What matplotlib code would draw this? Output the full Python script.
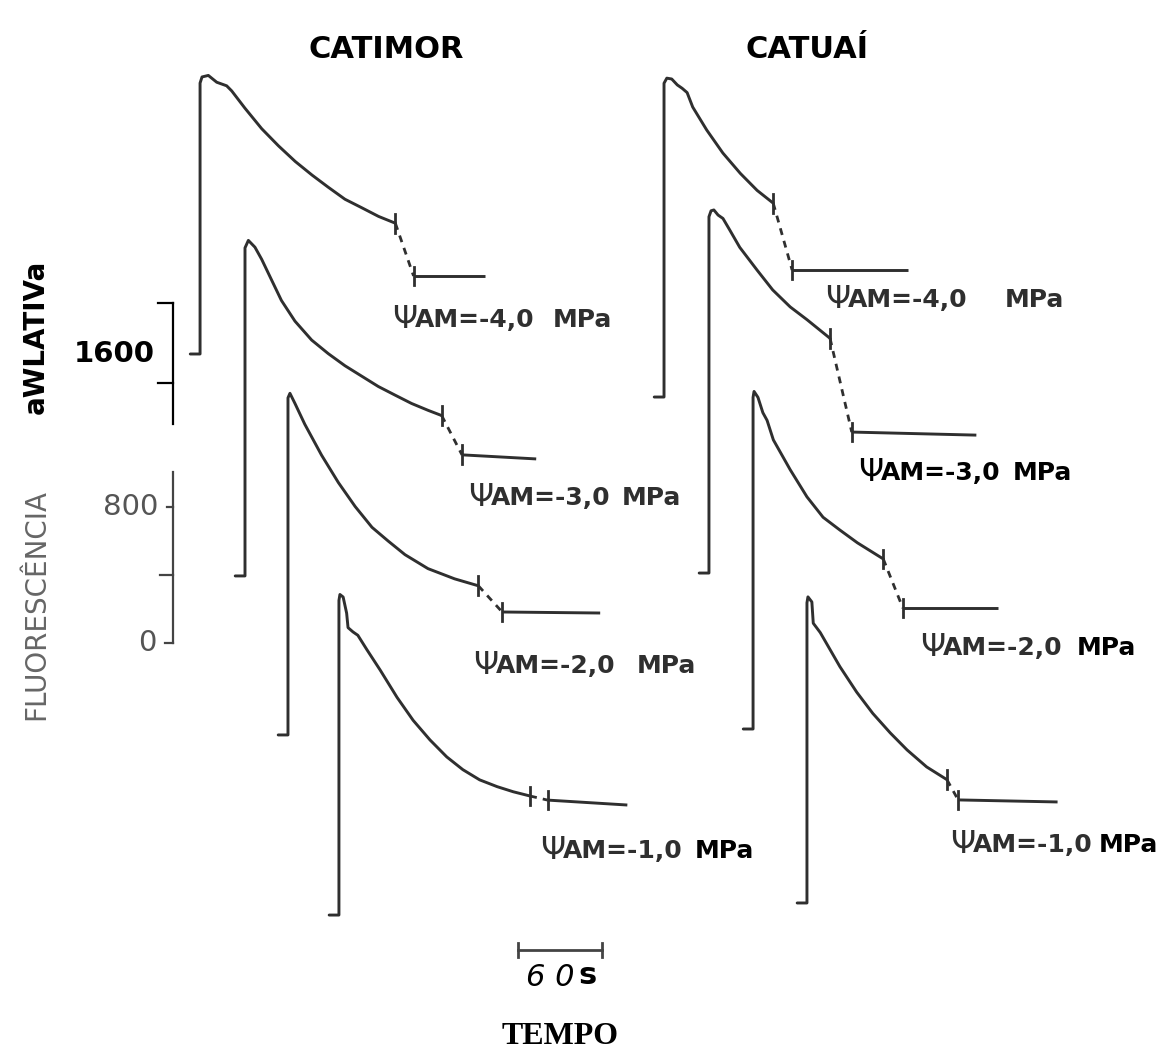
"""Chlorophyll fluorescence induction traces, Catimor vs Catuai."""

import matplotlib
matplotlib.use("Agg")
import matplotlib.pyplot as plt

W, H = 1162, 1054
PX_PER_S = 1.4          # 60 s scale bar is 84 px long
UNITS_PER_PX = 5.88     # 800 fluorescence units span 136 px

potentials = ["-4,0", "-3,0", "-2,0", "-1,0"]

# time after light on (s) and relative fluorescence for each trace
catimor_40_t = [-7, 0, 0, 1.4, 5.9, 11.9, 19, 22.6, 32, 44, 56, 68, 80, 91.5, 103.5, 115.5, 127.5, 139.5]
catimor_40_f = [0, 0, 1593, 1629, 1638, 1598, 1577, 1547, 1446, 1325, 1224, 1132, 1052, 981, 910, 860, 809, 769]
catimor_30_t = [-7, 0, 0, 2.4, 7.1, 11.9, 19, 26, 35.7, 47.6, 59.5, 71.4, 83.3, 95.2, 107, 119, 131, 140.5]
catimor_30_f = [0, 0, 1929, 1973, 1933, 1862, 1740, 1620, 1498, 1387, 1307, 1236, 1175, 1114, 1064, 1014, 973, 943]
catimor_20_t = [-7, 0, 0, 1.4, 5, 12, 24, 36, 48, 60, 71.6, 83.6, 100, 119, 136]
catimor_20_f = [0, 0, 1982, 2009, 1949, 1827, 1645, 1484, 1343, 1221, 1140, 1060, 978, 918, 877]
catimor_10_t = [-7, 0, 0, 0.7, 3, 5.5, 6.5, 10, 13.5, 20, 29.5, 41.5, 53, 65, 77, 88.5, 100.5, 113, 124.5, 136.5]
catimor_10_f = [0, 0, 1850, 1885, 1870, 1775, 1690, 1665, 1645, 1560, 1440, 1280, 1145, 1030, 930, 855, 795, 755, 725, 700]

catuai_40_t = [-7, 0, 0, 2, 5.5, 9.5, 13, 16.5, 20.5, 30.5, 42, 54.5, 66.5, 78]
catuai_40_f = [0, 0, 1845, 1875, 1870, 1835, 1815, 1790, 1705, 1570, 1435, 1315, 1215, 1140]
catuai_30_t = [-7, 0, 0, 1.5, 3.5, 6.5, 10, 15, 22, 34.5, 45.5, 58, 70, 86.5]
catuai_30_f = [0, 0, 2095, 2130, 2135, 2105, 2085, 2015, 1915, 1780, 1665, 1565, 1490, 1380]
catuai_20_t = [-7, 0, 0, 0.7, 3.5, 7, 10, 14.5, 26.5, 38.5, 50, 62, 74.5, 93]
catuai_20_f = [0, 0, 1950, 1985, 1950, 1860, 1815, 1700, 1525, 1365, 1245, 1170, 1095, 1000]
catuai_10_t = [-7, 0, 0, 0.7, 3.5, 4.5, 9.5, 16.5, 23.5, 35.5, 47, 59.5, 71.5, 85.5, 100]
catuai_10_f = [0, 0, 1765, 1800, 1770, 1645, 1590, 1490, 1390, 1240, 1115, 1000, 900, 800, 725]

# steady-state segment after the gap: (start, end) time and level
catimor_ss = [([152.5, 203.5], [459, 459]), ([155, 208], [712, 688]),
              ([153, 223], [723, 717]), ([149, 206], [676, 647])]
catuai_ss = [([91.5, 174], [747, 747]), ([102, 191], [829, 811]),
             ([107, 175], [711, 711]), ([108, 179], [606, 594])]

catimor_traces = [(catimor_40_t, catimor_40_f), (catimor_30_t, catimor_30_f),
                  (catimor_20_t, catimor_20_f), (catimor_10_t, catimor_10_f)]
catuai_traces = [(catuai_40_t, catuai_40_f), (catuai_30_t, catuai_30_f),
                 (catuai_20_t, catuai_20_f), (catuai_10_t, catuai_10_f)]

# where each trace starts on the sheet (s, units) -- traces are staggered
catimor_origin = [(142.9, 4116), (175.0, 2811), (205.7, 1876), (242.1, 817)]
catuai_origin = [(474.3, 3863), (506.4, 2828), (537.9, 1911), (576.4, 888)]

# label anchors in pixels: psi x, baseline y, "MPa" x, MPa in black bold?, whole label black?
catimor_lab = [(392, 327, 553, False, False), (468, 505, 622, False, False),
               (473, 673, 637, False, False), (540, 858, 695, True, False)]
catuai_lab = [(825, 307, 1005, False, False), (858, 480, 1013, True, True),
              (920, 655, 1077, True, False), (950, 852, 1099, True, False)]

GREY = "#2f2f2f"
TICK = 55   # half length of the end marks, fluorescence units


def fxy(x, y):
    return x / W, 1 - y / H


def draw_trace(ax, t, f, ss, origin):
    t0, f0 = origin
    tt = [v + t0 for v in t]
    ff = [v + f0 for v in f]
    ax.plot(tt, ff, color=GREY, lw=2.1, solid_joinstyle="round", solid_capstyle="round")
    ts, fs = ss
    te, fe = tt[-1], ff[-1]
    s0, s1 = ts[0] + t0, ts[1] + t0
    l0, l1 = fs[0] + f0, fs[1] + f0
    ax.plot([te, te], [fe - TICK, fe + TICK], color=GREY, lw=2.0)
    ax.plot([te, s0], [fe, l0], color=GREY, lw=2.0, ls=(0, (2.5, 2.2)))
    ax.plot([s0, s0], [l0 - TICK, l0 + TICK], color=GREY, lw=2.0)
    ax.plot([s0, s1], [l0, l1], color=GREY, lw=2.1, solid_capstyle="butt")


def draw_label(fig, pot, lab):
    x, y, xm, mpa_black, all_black = lab
    c = "black" if all_black else GREY
    fig.text(*fxy(x, y + 1), "Ψ", fontsize=23, color=c, va="baseline", ha="left")
    fig.text(*fxy(x + 23, y), "AM=" + pot, fontsize=18, color=c, fontweight="bold",
             va="baseline", ha="left")
    fig.text(*fxy(xm, y), "MPa", fontsize=18, color="black" if mpa_black else c,
             fontweight="bold", va="baseline", ha="left")


def main():
    fig = plt.figure(figsize=(W / 100, H / 100), dpi=100)
    ax = fig.add_axes([0, 0, 1, 1])
    ax.set_xlim(0, W / PX_PER_S)
    ax.set_ylim(0, H * UNITS_PER_PX)
    ax.axis("off")

    for (t, f), ss, org, lab, pot in zip(catimor_traces, catimor_ss, catimor_origin, catimor_lab, potentials):
        draw_trace(ax, t, f, ss, org)
        draw_label(fig, pot, lab)
    for (t, f), ss, org, lab, pot in zip(catuai_traces, catuai_ss, catuai_origin, catuai_lab, potentials):
        draw_trace(ax, t, f, ss, org)
        draw_label(fig, pot, lab)

    # fluorescence scale bracket
    ax_t, ax_f = 123.6, 2417
    ax.plot([ax_t, ax_t], [ax_f, ax_f + 1005], color="#444444", lw=1.6)
    for val, ln in [(0, 6), (400, 9), (800, 4)]:
        ax.plot([ax_t - ln, ax_t], [ax_f + val, ax_f + val], color="#444444", lw=1.6)
    ax.plot([ax_t, ax_t], [ax_f + 1290, ax_f + 2000], color="black", lw=1.6)
    for val in (1530, 2000):
        ax.plot([ax_t - 11, ax_t], [ax_f + val, ax_f + val], color="black", lw=1.6)

    fig.text(*fxy(155, 354), "1600", fontsize=21, fontweight="bold", ha="right", va="center")
    fig.text(*fxy(158, 507), "800", fontsize=21, color="#555555", ha="right", va="center")
    fig.text(*fxy(156, 643), "0", fontsize=21, color="#555555", ha="right", va="center")

    fig.text(*fxy(36, 604), "FLUORESCÊNCIA", fontsize=20, color="#666666", rotation=90,
             ha="center", va="center")
    fig.text(*fxy(36, 337), "aWLATIVa", fontsize=20, fontweight="bold", rotation=90,
             ha="center", va="center")

    title_font = ["Liberation Sans Narrow", "DejaVu Sans"]
    fig.text(*fxy(386, 49), "CATIMOR", fontsize=22, fontweight="bold", family=title_font,
             ha="center", va="center")
    fig.text(*fxy(807, 49), "CATUAÍ", fontsize=22, fontweight="bold", family=title_font,
             ha="center", va="center")

    # 60 s time bar
    bar_t, bar_f = 370, 611
    ax.plot([bar_t, bar_t + 60], [bar_f, bar_f], color="#444444", lw=2.0)
    for tb in (bar_t, bar_t + 60):
        ax.plot([tb, tb], [bar_f - 40, bar_f + 40], color="#444444", lw=2.0)
    fig.text(*fxy(550, 978), "6 0", fontsize=22, fontstyle="italic", ha="center", va="center")
    fig.text(*fxy(588, 976), "s", fontsize=22, fontweight="bold", ha="center", va="center")
    fig.text(*fxy(560, 1036), "TEMPO", fontsize=23, fontweight="bold", family="Liberation Serif",
             ha="center", va="center")

    fig.savefig("out.png", dpi=100, facecolor="white")
    plt.close(fig)


if __name__ == "__main__":
    main()
